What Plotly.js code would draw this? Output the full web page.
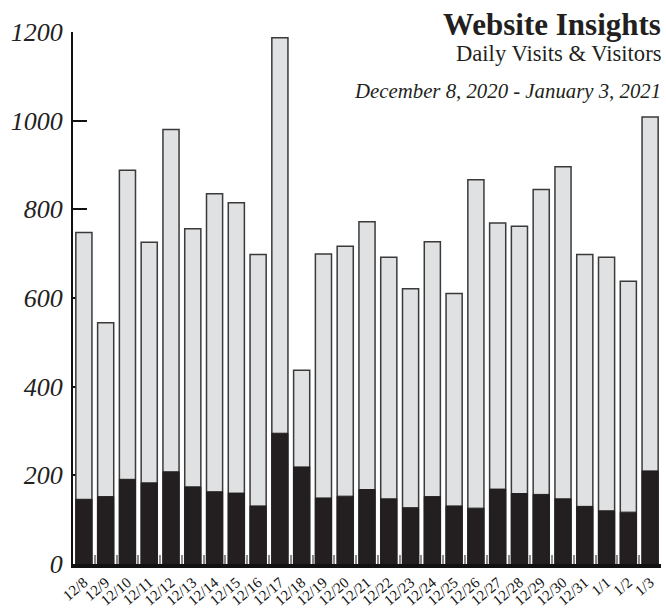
<!DOCTYPE html>
<html>
<head>
<meta charset="utf-8">
<script src="https://cdn.plot.ly/plotly-3.0.1.min.js"></script>
<style>html,body{margin:0;padding:0;background:#fff;}#chart{width:666px;height:611px;}</style>
</head>
<body>
<div id="chart"></div>
<script>
const dates = ["12/8","12/9","12/10","12/11","12/12","12/13","12/14","12/15","12/16","12/17","12/18","12/19","12/20","12/21","12/22","12/23","12/24","12/25","12/26","12/27","12/28","12/29","12/30","12/31","1/1","1/2","1/3"];
const visits = [748,544,888,726,980,756,835,815,698,1187,437,699,717,772,692,621,727,610,867,769,762,845,896,698,692,638,1008];
const visitors = [146,152,191,183,208,174,163,160,131,295,219,149,153,168,147,127,152,131,126,169,159,157,147,130,120,117,210];
const yTicks = [0,200,400,600,800,1000,1200];
const titleText = "Website Insights";
const subtitleText = "Daily Visits & Visitors";
const dateRangeText = "December 8, 2020 - January 3, 2021";

const serif = "Liberation Serif, Times New Roman, serif";

const traces = [
  {type:"bar", name:"Visits", x:dates, y:visits,
   marker:{color:"#e0e1e3", line:{color:"#3a3a3a", width:1.5}}, hoverinfo:"x+y"},
  {type:"bar", name:"Visitors", x:dates, y:visitors,
   marker:{color:"#231f20", line:{color:"#231f20", width:1}}, hoverinfo:"x+y"}
];

const layout = {
  width:666, height:611,
  margin:{l:73, r:5, t:32, b:47},
  paper_bgcolor:"#fff", plot_bgcolor:"#fff",
  showlegend:false,
  barmode:"overlay",
  bargap:0.26,
  xaxis:{
    type:"category",
    range:[-0.5, dates.length-0.5],
    showgrid:false, zeroline:false,
    showline:true, linecolor:"#111", linewidth:4,
    ticks:"inside", tickson:"boundaries", ticklen:9, tickwidth:2, tickcolor:"#8a8a8a",
    tickangle:-40,
    tickfont:{family:serif, size:15, color:"#111"},
    ticklabelstandoff:0,
    layer:"above traces"
  },
  yaxis:{
    range:[0,1200],
    tickvals:yTicks, ticktext:yTicks.map(v => "<i>"+v+"</i>"),
    showgrid:false, zeroline:false,
    showline:true, linecolor:"#111", linewidth:2,
    ticks:"inside", ticklen:14, tickwidth:2, tickcolor:"#111",
    tickfont:{family:serif, size:26, color:"#222"},
    ticklabelstandoff:3,
    layer:"below traces"
  },
  annotations:[
    {xref:"paper", yref:"paper", x:1.003, y:1.015, xanchor:"right", yanchor:"middle",
     text:"<b>"+titleText+"</b>", showarrow:false,
     font:{family:serif, size:31, color:"#231f20"}},
    {xref:"paper", yref:"paper", x:1.003, y:0.960, xanchor:"right", yanchor:"middle",
     text:subtitleText, showarrow:false,
     font:{family:serif, size:22.6, color:"#231f20"}},
    {xref:"paper", yref:"paper", x:1.003, y:0.889, xanchor:"right", yanchor:"middle",
     text:"<i>"+dateRangeText+"</i>", showarrow:false,
     font:{family:serif, size:20.8, color:"#231f20"}}
  ]
};

Plotly.newPlot("chart", traces, layout, {displayModeBar:false, staticPlot:true});
</script>
</body>
</html>
